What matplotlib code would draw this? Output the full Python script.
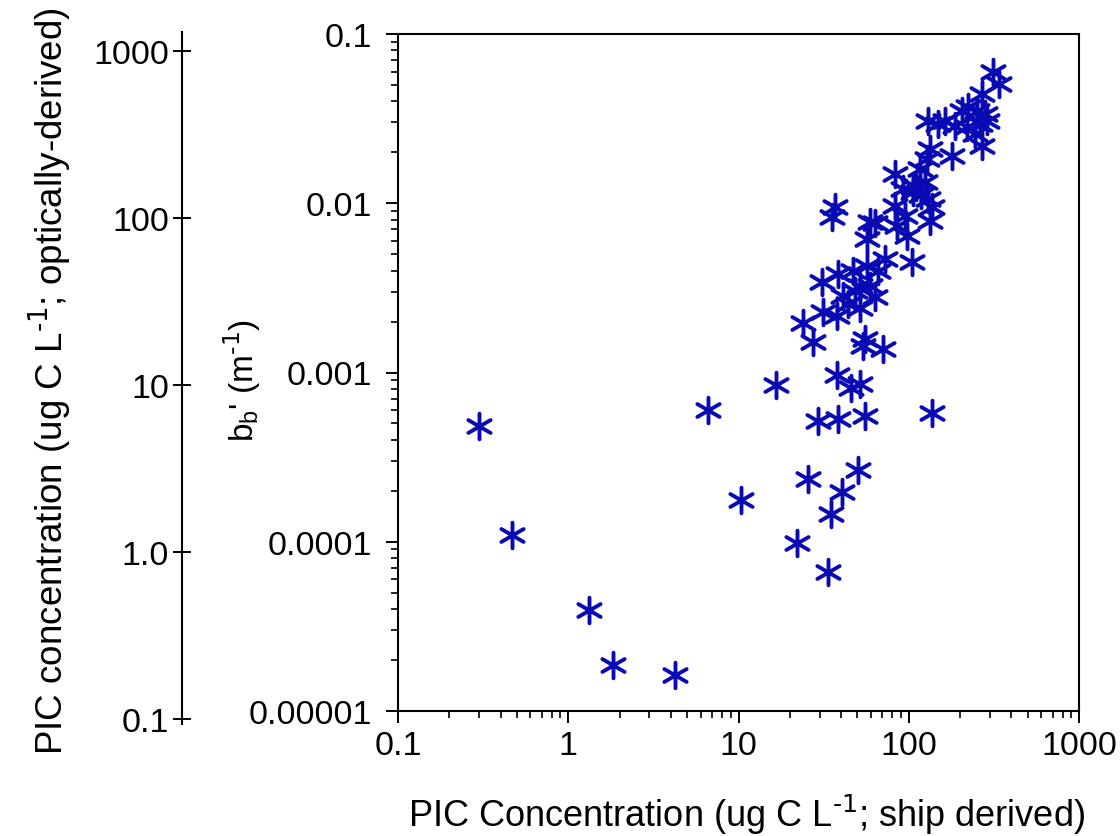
import matplotlib
matplotlib.use("Agg")
import numpy as np
import matplotlib.pyplot as plt
from matplotlib.path import Path
from matplotlib.ticker import LogLocator, FixedLocator, NullLocator, NullFormatter

plt.rcParams['font.family'] = ['Liberation Sans', 'DejaVu Sans']
plt.rcParams['mathtext.default'] = 'regular'

# PIC concentration (ship derived, ug C / L)
pic_ship = [
    0.299, 0.468, 1.32, 1.83, 4.24, 6.62, 10.3, 16.6, 22.1, 25.6, 29.3, 33.6, 34.9,
    38.4, 40.6, 50.4, 55.3, 137.0, 37.9, 45.8, 51.7, 27.4, 23.9, 55.3, 70.6, 53.8,
    36.9, 35.4, 59.2, 63.4, 56.9, 83.0, 85.3, 97.7, 104.5, 137.0, 133.3, 105.9, 92.5,
    30.9, 38.4, 47.1, 56.9, 72.5, 66.0, 51.7, 59.2, 63.4, 41.1, 31.4, 37.9, 51.7,
    48.3, 44.0,
    312.6, 339.0, 269.2, 222.9, 205.6, 251.8, 280.5, 288.3, 129.8, 163.3, 148.6,
    187.0, 219.9, 262.4, 244.9, 269.2, 133.3, 179.5, 128.0, 83.0, 116.4, 124.6,
    129.8, 105.9, 95.0, 110.0, 118.0,
]
# backscattering b_b' (1/m)
bb_prime = [
    0.000480, 0.000109, 3.94e-5, 1.87e-5, 1.63e-5, 0.000597, 0.000176, 0.000838,
    9.8e-5, 0.000234, 0.000514, 6.6e-5, 0.000145, 0.000528, 0.000196, 0.000264,
    0.000557, 0.000573, 0.000973, 0.000815, 0.000861, 0.00152, 0.00197, 0.00157,
    0.00137, 0.00144,
    0.00954, 0.00832, 0.00778, 0.00767, 0.00617, 0.00967, 0.00737, 0.00643, 0.00452,
    0.00954, 0.00788, 0.0127, 0.0122,
    0.00344, 0.00384, 0.00400, 0.00428, 0.00470, 0.00400, 0.00326, 0.00326, 0.00281,
    0.00285, 0.00229, 0.00217, 0.00239, 0.00305, 0.00255,
    0.0597, 0.0507, 0.0443, 0.0371, 0.0351, 0.0351, 0.0337, 0.0307, 0.0307, 0.0307,
    0.0294, 0.0286, 0.0283, 0.0294, 0.0257, 0.0218, 0.0210, 0.0191, 0.0183, 0.0149,
    0.0160, 0.0134, 0.0106, 0.0117, 0.00844, 0.0125, 0.0112,
]

x_ticks = [0.1, 1, 10, 100, 1000]
x_ticklabels = ['0.1', '1', '10', '100', '1000']
y_ticks = [1e-5, 1e-4, 1e-3, 1e-2, 1e-1]
y_ticklabels = ['0.00001', '0.0001', '0.001', '0.01', '0.1']
opt_ticks = [0.1, 1, 10, 100, 1000]
opt_ticklabels = ['0.1', '1.0', '10', '100', '1000']

# six-armed asterisk marker with a vertical arm
verts, codes = [], []
for a in (90, 30, 150):
    t = np.deg2rad(a)
    verts += [(np.cos(t), np.sin(t)), (-np.cos(t), -np.sin(t))]
    codes += [Path.MOVETO, Path.LINETO]
asterisk = Path(verts, codes)

W, H = 1120, 837
fig = plt.figure(figsize=(W / 100, H / 100), dpi=100)

# main axes
L, R, T, B = 398, 1079, 35, 712
ax = fig.add_axes([L / W, 1 - B / H, (R - L) / W, (B - T) / H])
ax.set_xscale('log')
ax.set_yscale('log')
ax.set_xlim(0.1, 1000)
ax.set_ylim(1e-5, 0.1)
sc = ax.scatter(pic_ship, bb_prime, marker=asterisk, s=18.5 ** 2, c='#0A0AB4',
                linewidths=2.8, zorder=3)
sc.set_capstyle('round')

for s in ax.spines.values():
    s.set_linewidth(1.5)
ax.xaxis.set_major_locator(FixedLocator(x_ticks))
ax.set_xticklabels(x_ticklabels)
ax.yaxis.set_major_locator(FixedLocator(y_ticks))
ax.set_yticklabels(y_ticklabels)
ax.xaxis.set_minor_locator(LogLocator(base=10, subs=range(2, 10)))
ax.yaxis.set_minor_locator(LogLocator(base=10, subs=range(2, 10)))
ax.xaxis.set_minor_formatter(NullFormatter())
ax.yaxis.set_minor_formatter(NullFormatter())
ax.tick_params(which='major', direction='out', length=8.5, width=1.4,
               labelsize=24.5, top=False, right=False)
ax.tick_params(which='minor', direction='out', length=5, width=1.2,
               top=False, right=False)
ax.tick_params(axis='y', which='major', pad=10)
ax.tick_params(axis='x', which='major', pad=5)

ax.set_ylabel(r"b$_b$' (m$^{\text{-1}}$)", fontsize=24)
ax.yaxis.set_label_coords(-0.198, 0.49)

# outer optically-derived axis
oT, oB = 33, 725
ax2 = fig.add_axes([182 / W, 1 - oB / H, 0.0001, (oB - oT) / H])
ax2.set_yscale('log')
ax2.set_ylim(0.0933, 1300)
ax2.patch.set_visible(False)
for k in ['top', 'right', 'bottom']:
    ax2.spines[k].set_visible(False)
ax2.spines['left'].set_linewidth(1.5)
ax2.set_xticks([])
ax2.yaxis.set_major_locator(FixedLocator(opt_ticks))
ax2.set_yticklabels(opt_ticklabels)
ax2.yaxis.set_minor_locator(NullLocator())
ax2.tick_params(axis='y', which='major', direction='inout', length=13, width=1.4,
                labelsize=24.5, pad=3)

fig.text(50 / W, 1 - 381 / H,
         r"PIC concentration (ug C L$^{\text{-1}}$; optically-derived)",
         rotation=90, ha='center', va='center', fontsize=26.5)
fig.text(746 / W, 1 - 815 / H,
         r"PIC Concentration (ug C L$^{\text{-1}}$; ship derived)",
         ha='center', va='center', fontsize=26)

fig.savefig('out.png', dpi=100)
